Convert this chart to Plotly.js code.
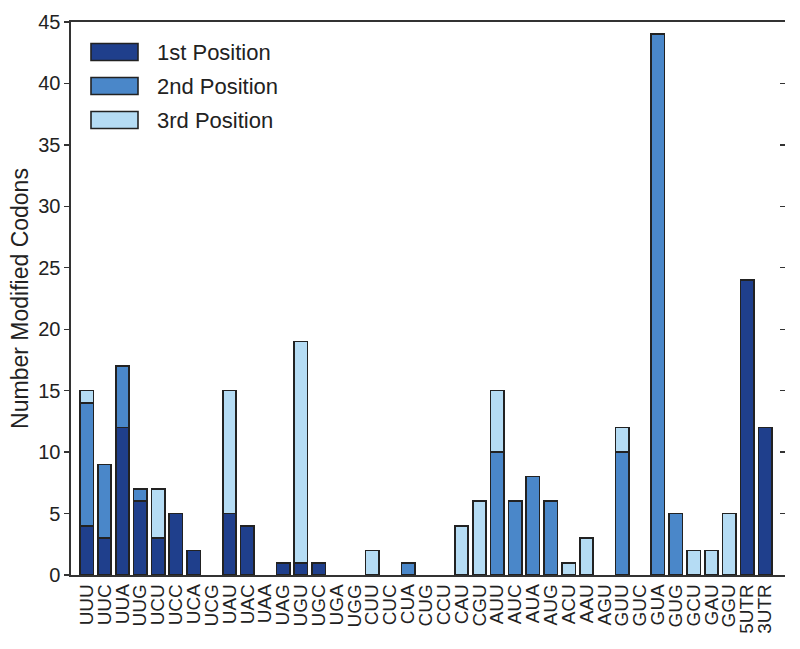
<!DOCTYPE html>
<html><head><meta charset="utf-8">
<script src="https://cdn.plot.ly/plotly-3.0.1.min.js"></script>
<style>body{margin:0;background:#fff}#chart{width:800px;height:649px}</style>
</head><body><div id="chart"></div>
<script>
const codons = ["UUU","UUC","UUA","UUG","UCU","UCC","UCA","UCG","UAU","UAC","UAA","UAG","UGU","UGC","UGA","UGG","CUU","CUC","CUA","CUG","CCU","CAU","CGU","AUU","AUC","AUA","AUG","ACU","AAU","AGU","GUU","GUC","GUA","GUG","GCU","GAU","GGU","5UTR","3UTR"];
const first  = [4,3,12,6,3,5,2,0,5,4,0,1,1,1,0,0,0,0,0,0,0,0,0,0,0,0,0,0,0,0,0,0,0,0,0,0,0,24,12];
const second = [10,6,5,1,0,0,0,0,0,0,0,0,0,0,0,0,0,0,1,0,0,0,0,10,6,8,6,0,0,0,10,0,44,5,0,0,0,0,0];
const third  = [1,0,0,0,4,0,0,0,10,0,0,0,18,0,0,0,2,0,0,0,0,4,6,5,0,0,0,1,3,0,2,0,0,0,2,2,5,0,0];
const names = ["1st Position","2nd Position","3rd Position"];
const colors = ["#1f3f8c","#4a87c9","#b5dcf4"];
const series = [first, second, third];
const idx = codons.map((c,i)=>i);
const traces = series.map((s,k)=>({
  type:"bar", x: idx, y: s.map(v => v === 0 ? null : v), name: names[k], width: 0.75,
  marker:{color:colors[k], line:{color:"#222", width:1.6}}, showlegend:false
}));
traces.push({type:"scatter", x:[0], y:[0], yaxis:"y2", showlegend:false, hoverinfo:"skip", mode:"markers", marker:{opacity:0}});

// plot area geometry (pixels) used only to place the custom legend
const W = 800, H = 649, mL = 71, mR = 15, mT = 22, mB = 74;
const pw = W - mL - mR, ph = H - mT - mB;
const px = x => (x - mL) / pw;
const py = y => 1 - (y - mT) / ph;
const shapes = [], annotations = [];
names.forEach((n,k) => {
  const cy = 52 + k * 34;
  shapes.push({type:"rect", xref:"paper", yref:"paper", x0:px(91), x1:px(138), y0:py(cy+8.5), y1:py(cy-8.5),
               fillcolor:colors[k], line:{color:"#222", width:1.6}});
  annotations.push({xref:"paper", yref:"paper", x:px(155), y:py(cy), xanchor:"left", yanchor:"middle",
                    text:n, showarrow:false, font:{size:22, color:"#222"}});
});

const layout = {
  width:W, height:H, barmode:"stack",
  margin:{l:mL, r:mR, t:mT, b:mB},
  paper_bgcolor:"#fff", plot_bgcolor:"#fff",
  font:{family:"Liberation Sans, Arial, Helvetica, sans-serif", color:"#222"},
  xaxis:{range:[-0.88,39.12], tickmode:"array", tickvals:idx, ticktext:codons, tickangle:-90,
         ticks:"", showgrid:false, zeroline:false, showline:true, mirror:true, linecolor:"#333", linewidth:1.6,
         tickfont:{size:19, color:"#222"}},
  yaxis:{range:[0,45], dtick:5, ticks:"outside", ticklen:5, tickwidth:1.3, tickcolor:"#333",
         showgrid:false, zeroline:false, showline:true, linecolor:"#333", linewidth:1.6,
         tickfont:{size:20, color:"#222"},
         title:{text:"Number Modified Codons", font:{size:23, color:"#222"}, standoff:3}},
  yaxis2:{range:[0,45], dtick:5, overlaying:"y", side:"right", ticks:"inside", ticklen:5, tickwidth:1.3,
          tickcolor:"#333", showticklabels:false, showgrid:false, zeroline:false, showline:false},
  shapes: shapes, annotations: annotations,
  showlegend:false
};
Plotly.newPlot("chart", traces, layout, {displayModeBar:false, staticPlot:true});
</script></body></html>
